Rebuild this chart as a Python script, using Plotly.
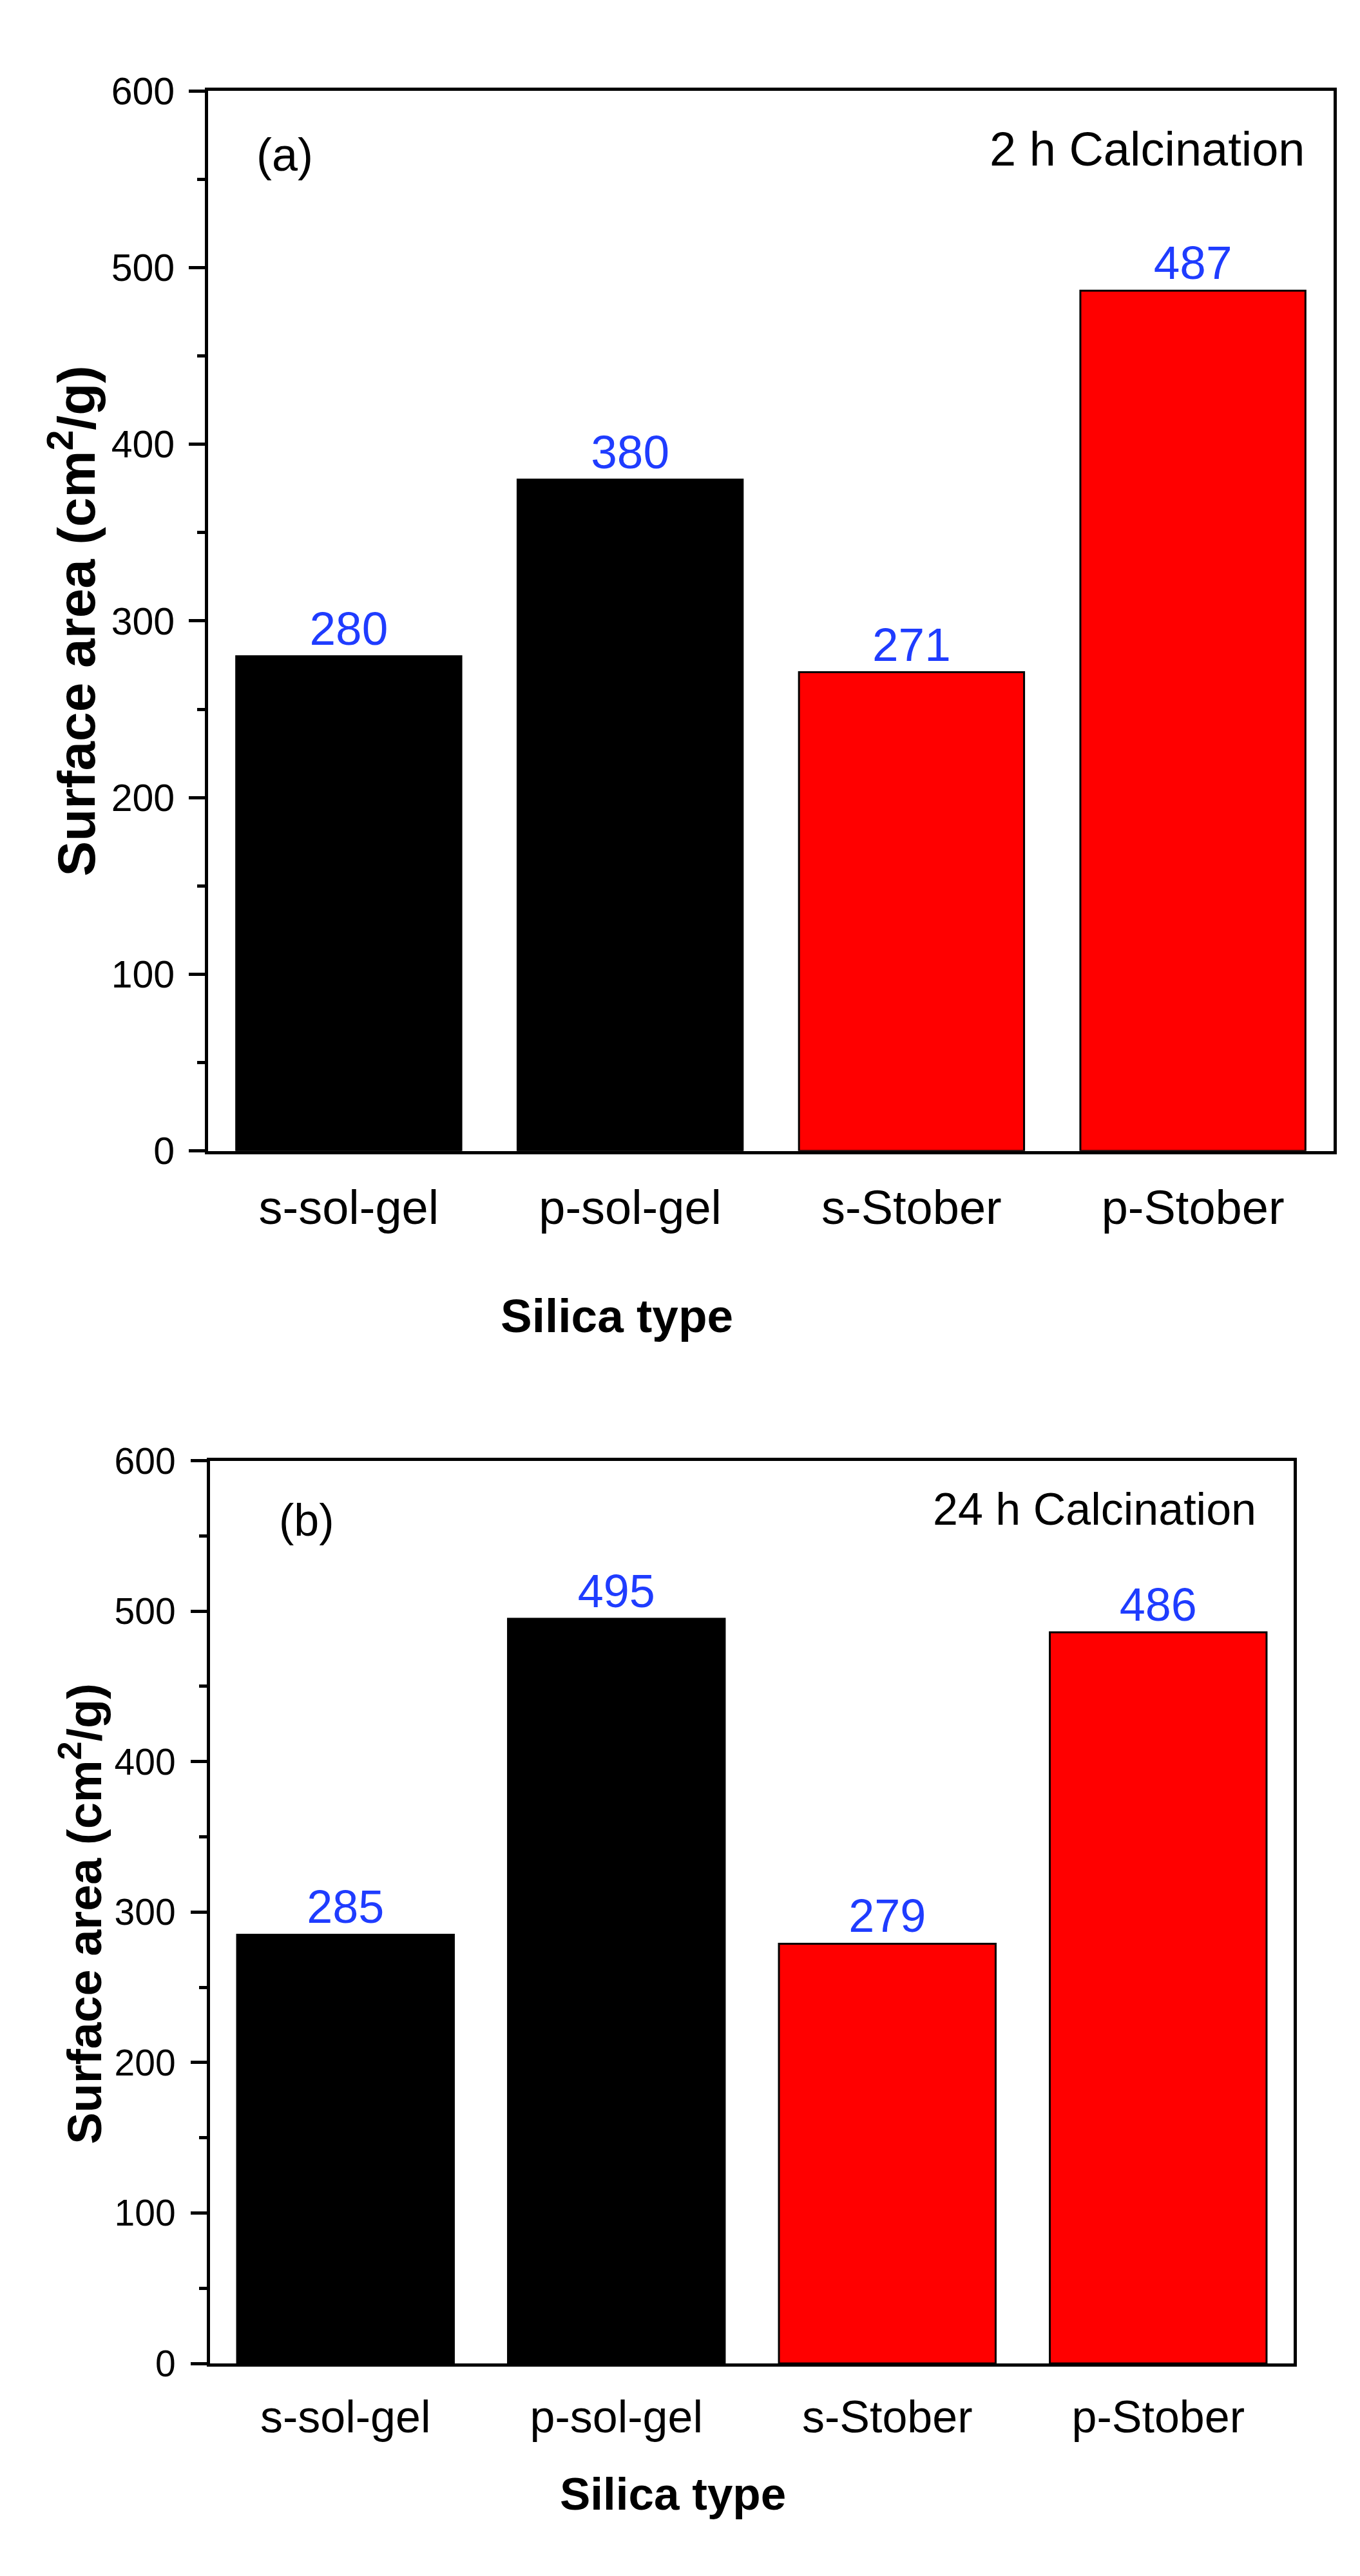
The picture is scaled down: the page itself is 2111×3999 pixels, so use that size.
import plotly.graph_objects as go
from plotly.subplots import make_subplots

# data
categories = ["s-sol-gel", "p-sol-gel", "s-Stober", "p-Stober"]
area_2h = [280, 380, 271, 487]
area_24h = [285, 495, 279, 486]
bar_colors = ["#000000", "#000000", "#ff0000", "#ff0000"]
y_ticks = [0, 100, 200, 300, 400, 500, 600]

W, H = 2111, 3999
FONT = "Liberation Sans, Arial, sans-serif"
BLUE = "#1f3cff"


def px_x(x):
    return x / W


def px_y(y):
    return 1 - y / H


fig = make_subplots(rows=2, cols=1)

fig.add_trace(go.Bar(x=categories, y=area_2h, width=0.8,
                     marker=dict(color=bar_colors, line=dict(color="black", width=3)),
                     texttemplate="%{y}", textposition="outside", cliponaxis=False,
                     textfont=dict(family=FONT, size=73, color=BLUE),
                     showlegend=False), row=1, col=1)

fig.add_trace(go.Bar(x=categories, y=area_24h, width=0.8,
                     marker=dict(color=bar_colors, line=dict(color="black", width=3)),
                     texttemplate="%{y}", textposition="outside", cliponaxis=False,
                     textfont=dict(family=FONT, size=72, color=BLUE),
                     showlegend=False), row=2, col=1)

fig.update_layout(
    width=W, height=H, autosize=False,
    margin=dict(l=0, r=0, t=0, b=0),
    paper_bgcolor="white", plot_bgcolor="white",
    font=dict(family=FONT, color="black"),
)

# axis domains in pixels of the original figure
fig.update_xaxes(domain=[px_x(315), px_x(2062)], row=1, col=1)
fig.update_yaxes(domain=[px_y(1776), px_y(103)], row=1, col=1)
fig.update_xaxes(domain=[px_x(318), px_x(2000)], row=2, col=1)
fig.update_yaxes(domain=[px_y(3690), px_y(2265)], row=2, col=1)

for r, tsize, xsize, sx, sy in [(1, 59, 74, 20, 10), (2, 57, 70, 18, 12)]:
    fig.update_xaxes(
        range=[-0.5, 3.5], showline=True, linewidth=5, linecolor="black",
        mirror=True, ticks="", showgrid=False, zeroline=False,
        tickfont=dict(family=FONT, size=xsize, color="black"),
        ticklabelstandoff=sx,
        row=r, col=1)
    fig.update_yaxes(
        range=[0, 600], tickvals=y_ticks, showline=True, linewidth=5,
        linecolor="black", mirror=True, ticks="outside", ticklen=25,
        tickwidth=5, tickcolor="black", showgrid=False, zeroline=False,
        minor=dict(dtick=50, ticks="outside", ticklen=12, tickwidth=5,
                   tickcolor="black", showgrid=False),
        tickfont=dict(family=FONT, size=tsize, color="black"),
        ticklabelstandoff=sy,
        row=r, col=1)

ytitle = "<b>Surface area (cm<sup>2</sup>/g)</b>"
notes = [
    dict(text="(a)", x=px_x(388), y=px_y(203), xanchor="left", yanchor="middle", size=72),
    dict(text="2 h Calcination", x=px_x(2020), y=px_y(195), xanchor="right",
         yanchor="middle", size=74),
    dict(text="<b>Silica type</b>", x=px_x(949), y=px_y(2036), xanchor="center",
         yanchor="middle", size=73),
    dict(text=ytitle, x=px_x(104), y=px_y(940), xanchor="center", yanchor="middle",
         textangle=-90, size=82),
    dict(text="(b)", x=px_x(423), y=px_y(2359), xanchor="left", yanchor="middle", size=70),
    dict(text="24 h Calcination", x=px_x(1944), y=px_y(2342), xanchor="right",
         yanchor="middle", size=70),
    dict(text="<b>Silica type</b>", x=px_x(1036), y=px_y(3896), xanchor="center",
         yanchor="middle", size=71),
    dict(text=ytitle, x=px_x(118), y=px_y(2980), xanchor="center", yanchor="middle",
         textangle=-90, size=74),
]
for n in notes:
    size = n.pop("size")
    fig.add_annotation(xref="paper", yref="paper", showarrow=False,
                       font=dict(family=FONT, size=size, color="black"), **n)

fig.write_html("out.html")
